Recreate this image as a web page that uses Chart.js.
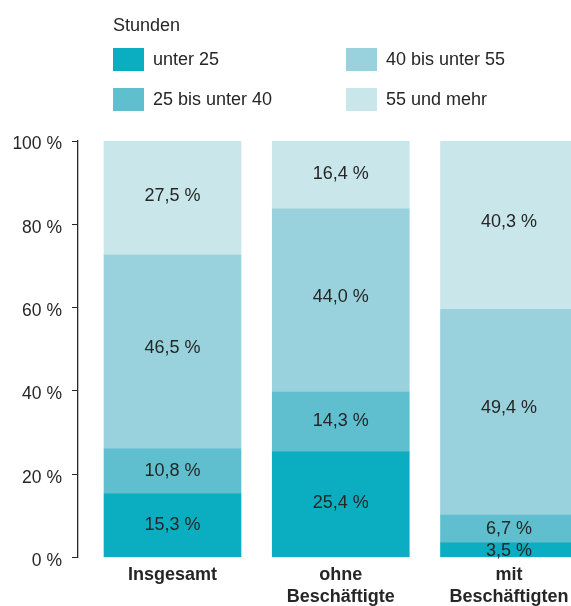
<!DOCTYPE html>
<html>
<head>
<meta charset="utf-8">
<script src="https://cdn.jsdelivr.net/npm/chart.js@4"></script>
<style>
  body { margin: 0; background: #fff; }
  #wrap { position: relative; width: 571px; height: 606px; overflow: hidden; font-family: "Liberation Sans", Arial, sans-serif; color: #262626; }
  #chart { position: absolute; left: 0; top: 0; }
  #legend { position: absolute; left: 0; top: 0; width: 571px; height: 130px; }
  #legend .title { position: absolute; left: 113px; top: 15px; font-size: 18px; }
  #legend .item { position: absolute; font-size: 18px; line-height: 23px; height: 23px; white-space: nowrap; }
  #legend .sw { display: inline-block; width: 31px; height: 23px; vertical-align: top; margin-right: 9px; }
</style>
</head>
<body>
<div id="wrap">
  <canvas id="chart" width="571" height="606"></canvas>
  <div id="legend"><div class="title">Stunden</div></div>
</div>
<script>
// Kategorien (Balken) und Stundengruppen
const categories = [['Insgesamt'], ['ohne', 'Beschäftigte'], ['mit', 'Beschäftigten']];
const seriesNames = ['unter 25', '25 bis unter 40', '40 bis unter 55', '55 und mehr'];
const seriesColors = ['#0aaec0', '#5fbfcf', '#99d1dc', '#c9e6eb'];

// Anteile in Prozent
const unter25 = [15.3, 25.4, 3.5];
const von25bis40 = [10.8, 14.3, 6.7];
const von40bis55 = [46.5, 44.0, 49.4];
const ab55 = [27.5, 16.4, 40.3];

const yTicks = [0, 20, 40, 60, 80, 100];

const seriesValues = [unter25, von25bis40, von40bis55, ab55];

// Legende als HTML (zwei Spalten wie im Original)
const legendPos = [
    { left: 113, top: 48 },
    { left: 113, top: 88 },
    { left: 346, top: 48 },
    { left: 346, top: 88 }
];
const legendEl = document.getElementById('legend');
seriesNames.forEach((name, i) => {
    const item = document.createElement('div');
    item.className = 'item';
    item.style.left = legendPos[i].left + 'px';
    item.style.top = legendPos[i].top + 'px';
    const sw = document.createElement('span');
    sw.className = 'sw';
    sw.style.background = seriesColors[i];
    item.appendChild(sw);
    item.appendChild(document.createTextNode(name));
    legendEl.appendChild(item);
});

// Werte in die Segmente schreiben (leicht oberhalb der Mitte, wie im Original)
const segmentLabels = {
    id: 'segmentLabels',
    afterDatasetsDraw(chart) {
        const ctx = chart.ctx;
        ctx.save();
        ctx.font = '18px "Liberation Sans", Arial, sans-serif';
        ctx.fillStyle = '#262626';
        ctx.textAlign = 'center';
        ctx.textBaseline = 'middle';
        chart.data.datasets.forEach((ds, di) => {
            const meta = chart.getDatasetMeta(di);
            meta.data.forEach((bar, i) => {
                const p = bar.getProps(['x', 'y', 'base'], true);
                const txt = ds.data[i].y.toFixed(1).replace('.', ',') + ' %';
                ctx.fillText(txt, p.x, p.base - (p.base - p.y) * 0.525 + 1);
            });
        });
        ctx.restore();
    }
};

const datasets = seriesNames.map((name, i) => ({
    label: name,
    data: seriesValues[i].map((v, j) => ({ x: j, y: v })),
    backgroundColor: seriesColors[i],
    borderWidth: 0,
    barThickness: 137
}));

new Chart(document.getElementById('chart').getContext('2d'), {
    type: 'bar',
    data: { datasets: datasets },
    options: {
        responsive: false,
        animation: false,
        layout: { padding: { top: 141, right: 0, bottom: 0, left: 0 } },
        plugins: {
            legend: { display: false },
            tooltip: { enabled: false }
        },
        scales: {
            x: {
                type: 'linear',
                stacked: true,
                offset: false,
                min: -0.5617,
                max: 2.3685,
                afterFit(scale) {
                    scale.height = 48.5;
                    scale.paddingLeft = 0;
                    scale.paddingRight = 0;
                },
                afterBuildTicks(scale) {
                    scale.ticks = categories.map((c, i) => ({ value: i }));
                },
                grid: { display: false, drawTicks: false, offset: false },
                border: { display: false },
                ticks: {
                    padding: 7,
                    maxRotation: 0,
                    autoSkip: false,
                    color: '#262626',
                    font: { family: '"Liberation Sans", Arial, sans-serif', size: 18, weight: 'bold', lineHeight: 1.2 },
                    callback: (v) => categories[v]
                }
            },
            y: {
                stacked: true,
                min: 0,
                max: 100,
                afterFit(scale) { scale.width = 78; },
                afterBuildTicks(scale) {
                    scale.ticks = yTicks.map(v => ({ value: v }));
                },
                grid: { drawOnChartArea: false, drawTicks: true, tickLength: 6, color: '#262626', lineWidth: 1 },
                border: { display: true, color: '#262626', width: 1.3 },
                ticks: {
                    padding: 10,
                    labelOffset: 3.5,
                    color: '#262626',
                    font: { family: '"Liberation Sans", Arial, sans-serif', size: 17.5 },
                    callback: (v) => v + ' %'
                }
            }
        }
    },
    plugins: [segmentLabels]
});
</script>
</body>
</html>
